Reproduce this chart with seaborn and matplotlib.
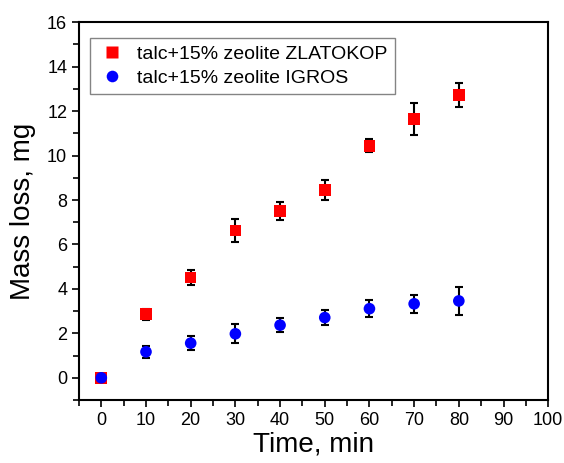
import numpy as np
import pandas as pd
import matplotlib
matplotlib.use('Agg')
import matplotlib.pyplot as plt
import seaborn as sns
from matplotlib.ticker import MultipleLocator

# 데이터
time = [0, 10, 20, 30, 40, 50, 60, 70, 80]
zlatokop = [0.0, 2.86, 4.52, 6.62, 7.50, 8.45, 10.44, 11.65, 12.73]
zlatokop_err = [0.05, 0.25, 0.33, 0.51, 0.40, 0.46, 0.30, 0.71, 0.55]
igros = [0.0, 1.17, 1.56, 1.98, 2.37, 2.71, 3.11, 3.33, 3.46]
igros_err = [0.05, 0.28, 0.31, 0.43, 0.31, 0.32, 0.39, 0.40, 0.63]

lab1 = 'talc+15% zeolite ZLATOKOP'
lab2 = 'talc+15% zeolite IGROS'

df = pd.concat([
    pd.DataFrame({'time': time, 'loss': zlatokop, 'err': zlatokop_err, 'sample': lab1}),
    pd.DataFrame({'time': time, 'loss': igros, 'err': igros_err, 'sample': lab2}),
])

sns.set_style('ticks')
plt.rcParams['font.family'] = ['Liberation Sans', 'DejaVu Sans']
plt.rcParams['text.color'] = 'black'
plt.rcParams['axes.labelcolor'] = 'black'
plt.rcParams['xtick.color'] = 'black'
plt.rcParams['ytick.color'] = 'black'
plt.rcParams['axes.edgecolor'] = 'black'

fig = plt.figure(figsize=(5.64, 4.63), dpi=100)
ax = fig.add_axes([0.140, 0.136, 0.832, 0.816])

# 오차막대
for name, g in df.groupby('sample', sort=False):
    ax.errorbar(g['time'], g['loss'], yerr=g['err'], fmt='none', ecolor='black',
                elinewidth=1.5, capsize=3, capthick=1.5, zorder=2)

sns.scatterplot(data=df, x='time', y='loss', hue='sample', style='sample',
                palette={lab1: '#ff0000', lab2: '#0000ff'},
                markers={lab1: 's', lab2: 'o'}, s=70, edgecolor='none',
                ax=ax, zorder=3)

ax.set_xlim(-5, 100)
ax.set_ylim(-1, 16)
ax.xaxis.set_major_locator(MultipleLocator(10))
ax.xaxis.set_minor_locator(MultipleLocator(5))
ax.yaxis.set_major_locator(MultipleLocator(2))
ax.yaxis.set_minor_locator(MultipleLocator(1))
ax.tick_params(which='both', direction='out', labelsize=13, width=1.2, top=False, right=False)
ax.tick_params(which='major', length=5)
ax.tick_params(which='minor', length=4)
for s in ax.spines.values():
    s.set_linewidth(1.5)

ax.set_xlabel('Time, min', fontsize=20, labelpad=2)
ax.set_ylabel('Mass loss, mg', fontsize=20, labelpad=8)

leg = ax.legend(loc='upper left', bbox_to_anchor=(0.023, 0.958), borderaxespad=0,
                fontsize=14, frameon=True, fancybox=False, edgecolor='#666666',
                handletextpad=0.5, handlelength=1.6, borderpad=0.35, labelspacing=0.35)
leg.get_frame().set_linewidth(1.0)

plt.savefig('out.png', dpi=100)
